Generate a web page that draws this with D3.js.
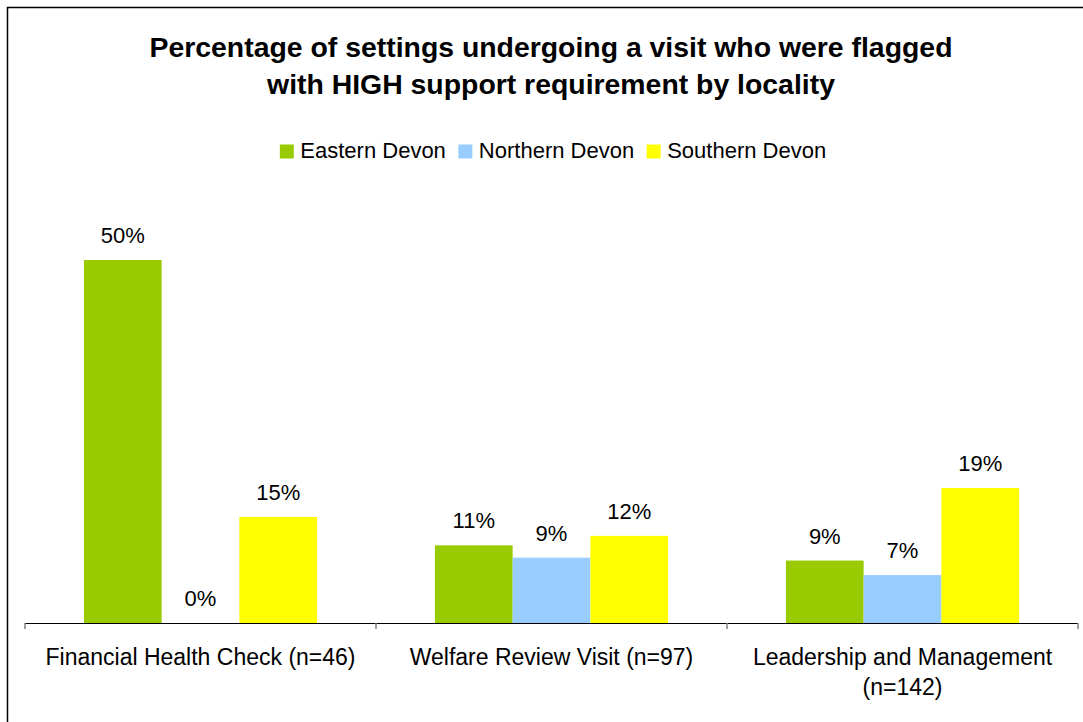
<!DOCTYPE html>
<html>
<head>
<meta charset="utf-8">
<script src="https://cdn.jsdelivr.net/npm/d3@7"></script>
<style>
  html, body { margin: 0; padding: 0; background: #fff; }
  svg { display: block; }
  text { font-family: "Liberation Sans", Arial, Helvetica, sans-serif; fill: #000; }
</style>
</head>
<body>
<svg id="chart" width="1083" height="722"></svg>
<script>
// ---- data ----
const titleLines = ["Percentage of settings undergoing a visit who were flagged",
                    "with HIGH support requirement by locality"];
const categories = ["Financial Health Check (n=46)", "Welfare Review Visit (n=97)", "Leadership and Management (n=142)"];
const categoryLines = [["Financial Health Check (n=46)"], ["Welfare Review Visit (n=97)"], ["Leadership and Management", "(n=142)"]];
const seriesNames = ["Eastern Devon", "Northern Devon", "Southern Devon"];
const seriesColors = ["#99cc00", "#99ccff", "#ffff00"];
const easternDevon = [50, 10.7, 8.6];
const northernDevon = [0, 9.0, 6.6];
const southernDevon = [14.6, 12.0, 18.6];
const seriesValues = [easternDevon, northernDevon, southernDevon];

// ---- drawing ----
const svg = d3.select("#chart");
const W = 1083, H = 722;

svg.append("rect").attr("x", 0).attr("y", 0).attr("width", W).attr("height", H).attr("fill", "#fff");
// outer frame (extends beyond the visible window on right and bottom)
svg.append("rect")
  .attr("x", 7.5).attr("y", 7.5).attr("width", 1088).attr("height", 740)
  .attr("fill", "none").attr("stroke", "#000").attr("stroke-width", 1.5);

// title
const title = svg.append("text").attr("text-anchor", "middle")
  .attr("font-size", 28.4).attr("font-weight", "bold");
titleLines.forEach((t, i) => {
  title.append("tspan").attr("x", 551).attr("y", 57 + i * 37).text(t);
});

// scales
const x0 = d3.scaleBand().domain(categories).range([25, 1078]).paddingInner(0).paddingOuter(0);
const x1 = d3.scaleBand().domain(seriesNames).range([0, x0.bandwidth()]).paddingInner(0).paddingOuter(0.758);
const y = d3.scaleLinear().domain([0, 50]).range([623, 260]);

// bars
const groups = svg.append("g").selectAll("g").data(categories).join("g")
  .attr("transform", d => `translate(${x0(d)},0)`);

groups.each(function(cat, ci) {
  const g = d3.select(this);
  const rows = seriesNames.map((s, si) => ({ s, si, v: seriesValues[si][ci] }));
  g.selectAll("rect").data(rows).join("rect")
    .attr("x", d => x1(d.s))
    .attr("y", d => y(d.v))
    .attr("width", x1.bandwidth())
    .attr("height", d => y(0) - y(d.v))
    .attr("fill", d => seriesColors[d.si]);
  g.selectAll("text.val").data(rows).join("text")
    .attr("class", "val")
    .attr("x", d => x1(d.s) + x1.bandwidth() / 2)
    .attr("y", d => y(d.v) - 17)
    .attr("text-anchor", "middle")
    .attr("font-size", 22)
    .text(d => Math.round(d.v) + "%");
});

// x axis
const axis = d3.axisBottom(x0).tickSize(0).tickFormat("");
const ax = svg.append("g").attr("transform", `translate(0,${y(0)})`).call(axis);
ax.select(".domain").attr("stroke", "#000").attr("stroke-width", 1.2).attr("d", "M25,0.5H1078");
// tick marks at band boundaries
const boundaries = categories.map(c => x0(c)).concat([x0(categories[categories.length - 1]) + x0.bandwidth()]);
ax.selectAll("line.bnd").data(boundaries).join("line")
  .attr("class", "bnd")
  .attr("x1", d => d).attr("x2", d => d)
  .attr("y1", 0).attr("y2", 6)
  .attr("stroke", "#808080").attr("stroke-width", 1.5);

// category labels
categories.forEach((c, i) => {
  const t = svg.append("text").attr("text-anchor", "middle").attr("font-size", 23);
  categoryLines[i].forEach((line, li) => {
    t.append("tspan").attr("x", x0(c) + x0.bandwidth() / 2).attr("y", 665 + li * 30).text(line);
  });
});

// legend
const legend = svg.append("g");
const sq = 14, gapSqText = 6.5, gapItem = 12.5;
let cx = 0;
seriesNames.forEach((s, i) => {
  const g = legend.append("g");
  g.append("rect").attr("x", 0).attr("y", 144.5).attr("width", sq).attr("height", sq).attr("fill", seriesColors[i]);
  const t = g.append("text").attr("x", sq + gapSqText).attr("y", 158).attr("font-size", 22).text(s);
  const w = sq + gapSqText + t.node().getComputedTextLength();
  g.attr("transform", `translate(${cx},0)`);
  cx += w + gapItem;
});
const totalW = cx - gapItem;
legend.attr("transform", `translate(${553 - totalW / 2},0)`);
</script>
</body>
</html>
